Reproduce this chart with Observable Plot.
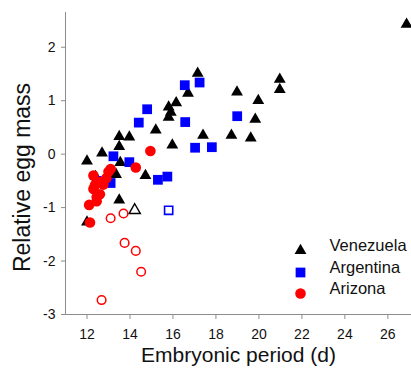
<!DOCTYPE html>
<html>
<head>
<meta charset="utf-8">
<script src="https://cdn.jsdelivr.net/npm/d3@7"></script>
<script src="https://cdn.jsdelivr.net/npm/@observablehq/plot@0.6"></script>
<style>
  body { margin: 0; background: #fff; }
  #chart svg { display: block; }
</style>
</head>
<body>
<div id="chart"></div>
<script>
// Embryonic period (d), relative egg mass
const venezuela = [
  [12.0,-0.13],[12.0,-1.27],[12.7,0.02],[12.4,-0.42],[13.5,0.33],[13.97,0.32],
  [13.5,0.14],[13.55,-0.16],[13.35,-0.38],[13.5,-0.86],[14.72,-0.40],[15.2,0.45],
  [15.97,0.17],[15.8,0.88],[15.9,0.78],[15.8,0.69],[16.15,0.96],[16.7,1.14],
  [17.15,1.51],[17.4,0.35],[18.72,0.35],[18.98,1.16],[19.97,1.0],[19.83,0.65],
  [19.62,0.30],[20.97,1.40],[20.97,1.21],[26.87,2.43]
];
const venezuelaOpen = [[14.22,-1.05]];
const argentina = [
  [12.45,-0.50],[13.1,-0.54],[13.23,-0.04],[13.97,-0.15],[14.41,0.59],[14.8,0.84],
  [15.3,-0.48],[15.74,-0.42],[16.55,1.29],[16.57,0.60],[17.03,0.12],[17.24,1.34],
  [17.81,0.13],[18.99,0.71]
];
const argentinaOpen = [[15.8,-1.05]];
const arizona = [
  [12.1,-0.95],[12.14,-1.28],[12.3,-0.40],[12.3,-0.65],[12.37,-0.58],[12.45,-0.88],
  [12.45,-0.80],[12.6,-0.52],[12.6,-0.75],[12.76,-0.57],[12.9,-0.45],[13.0,-0.33],
  [13.1,-0.28],[14.27,-0.25],[14.95,0.06]
];
const arizonaOpen = [
  [13.1,-1.2],[13.7,-1.11],[13.75,-1.66],[14.27,-1.81],[14.52,-2.2],[12.68,-2.73]
];
const seriesNames = ["Venezuela", "Argentina", "Arizona"];
const seriesSymbols = ["triangle", "square", "circle"];
const seriesColors = ["#000000", "#0000ff", "#ff0000"];
const xTicks = [12, 14, 16, 18, 20, 22, 24, 26];
const yTicks = [-3, -2, -1, 0, 1, 2];
const xDomain = [11, 27.1];
const yDomain = [-3, 2.65];
const xTitle = "Embryonic period (d)";
const yTitle = "Relative egg mass";

const font = "'Liberation Sans', Arial, sans-serif";
const symR = {triangle: 4.4, square: 5.5, circle: 5.3};

const legendDy = [-64, -42, -21];

const marks = [
  Plot.ruleX([xDomain[0]], {stroke: "#8c8c8c", strokeWidth: 1}),
  Plot.ruleY([yDomain[0]], {stroke: "#8c8c8c", strokeWidth: 1}),
  Plot.axisX({ticks: xTicks, tickSize: 5, tickPadding: 10, tickFormat: d => String(d),
    label: null, stroke: "#8c8c8c", fill: "#111", fontSize: 14}),
  Plot.axisY({ticks: yTicks, tickSize: 4, tickPadding: 6, tickFormat: d => String(d),
    label: null, stroke: "#8c8c8c", fill: "#111", fontSize: 14}),
  // filled series
  Plot.dot(venezuela, {x: d => d[0], y: d => d[1], symbol: "triangle", r: symR.triangle, fill: seriesColors[0], stroke: "none"}),
  Plot.dot(argentina, {x: d => d[0], y: d => d[1], symbol: "square", r: symR.square, fill: seriesColors[1], stroke: "none"}),
  Plot.dot(arizona, {x: d => d[0], y: d => d[1], symbol: "circle", r: symR.circle, fill: seriesColors[2], stroke: "none"}),
  // open series
  Plot.dot(venezuelaOpen, {x: d => d[0], y: d => d[1], symbol: "triangle", r: 4.2, fill: "white", stroke: seriesColors[0], strokeWidth: 1.4}),
  Plot.dot(argentinaOpen, {x: d => d[0], y: d => d[1], symbol: "square", r: 4.6, fill: "white", stroke: seriesColors[1], strokeWidth: 1.6}),
  Plot.dot(arizonaOpen, {x: d => d[0], y: d => d[1], symbol: "circle", r: 4.3, fill: "white", stroke: seriesColors[2], strokeWidth: 1.5}),
  // axis titles
  Plot.text([xTitle], {frameAnchor: "bottom", dy: 47, text: d => d, fontSize: 21, fill: "#111", textAnchor: "middle"}),
  Plot.text([yTitle], {frameAnchor: "left", dx: -43, dy: 14, rotate: -90, text: d => d, fontSize: 23, fill: "#111", textAnchor: "middle"}),
];
// legend
seriesNames.forEach((name, i) => {
  marks.push(Plot.dot([name], {frameAnchor: "bottom-right", dx: -111, dy: legendDy[i],
    symbol: seriesSymbols[i], r: symR[seriesSymbols[i]], fill: seriesColors[i], stroke: "none"}));
  marks.push(Plot.text([name], {frameAnchor: "bottom-right", dx: -82, dy: legendDy[i],
    text: d => d, textAnchor: "start", fontSize: 16.5, fill: "#111"}));
});

const chart = Plot.plot({
  width: 411,
  height: 375,
  marginLeft: 65,
  marginRight: 0,
  marginTop: 12,
  marginBottom: 61,
  style: {fontFamily: font, background: "white", color: "#111"},
  x: {domain: xDomain, axis: null},
  y: {domain: yDomain, axis: null},
  marks
});
document.getElementById("chart").append(chart);
</script>
</body>
</html>
